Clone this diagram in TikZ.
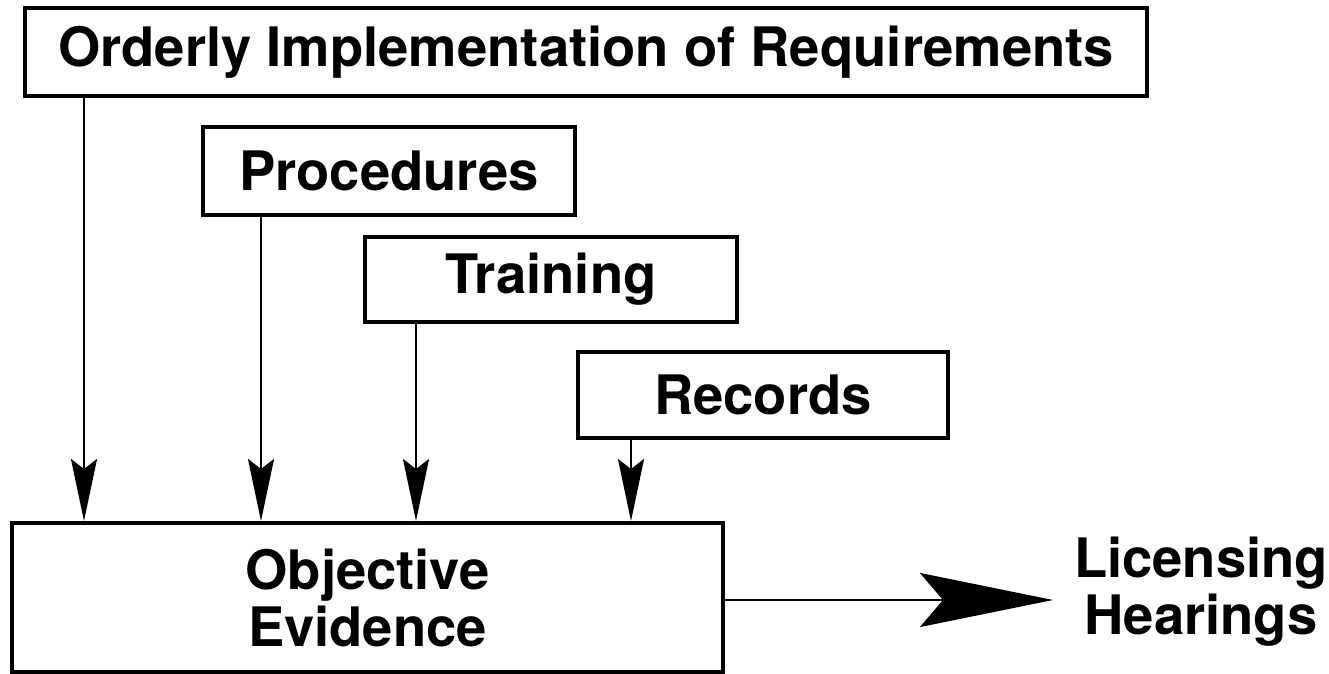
\documentclass[tikz,border=0pt]{standalone}
\usepackage{fontspec}
\setmainfont{TeX Gyre Heros}
\usetikzlibrary{arrows.meta}

\begin{document}
\begin{tikzpicture}[x=0.5pt,y=-0.5pt,line join=miter,
  box/.style={draw,line width=2pt,inner sep=0pt,align=center,font=\fontsize{27.2}{28.5}\selectfont\bfseries},
  feed/.style={line width=1.2pt,-{Stealth[length=31pt,width=13pt,inset=5pt]}}]
\useasboundingbox (0,0) rectangle (1329,674);
\node[box,minimum width=561pt,minimum height=44pt] (req) at (586,52) {Orderly Implementation of Requirements};
\node[box,minimum width=186pt,minimum height=44pt] (proc) at (389,171) {Procedures};
\node[box,minimum width=186pt,minimum height=42.5pt] (train) at (551,279.5) {Training};
\node[box,minimum width=185pt,minimum height=43pt] (rec) at (763,395) {Records};
\node[box,minimum width=355.5pt,minimum height=74.5pt] (obj) at (367.5,597.5) {Objective\\Evidence};
\node[box,draw=none] (lic) at (1201,592) {Licensing\\Hearings};
\draw[feed] ([xshift=30.5pt]req.south west) coordinate (r1) -- (r1 |- obj.north);
\draw[feed] ([xshift=30pt]proc.south west) coordinate (p1) -- (p1 |- obj.north);
\draw[feed] ([xshift=26.5pt]train.south west) coordinate (t1) -- (t1 |- obj.north);
\draw[feed] ([xshift=27.5pt]rec.south west) coordinate (c1) -- (c1 |- obj.north);
\draw[line width=1.2pt,-{Stealth[length=66.5pt,width=27pt,inset=11.5pt]}] ([yshift=-1.25pt]obj.east) -- ([yshift=-1.25pt]obj.east -| 1053,0);
\end{tikzpicture}
\end{document}
